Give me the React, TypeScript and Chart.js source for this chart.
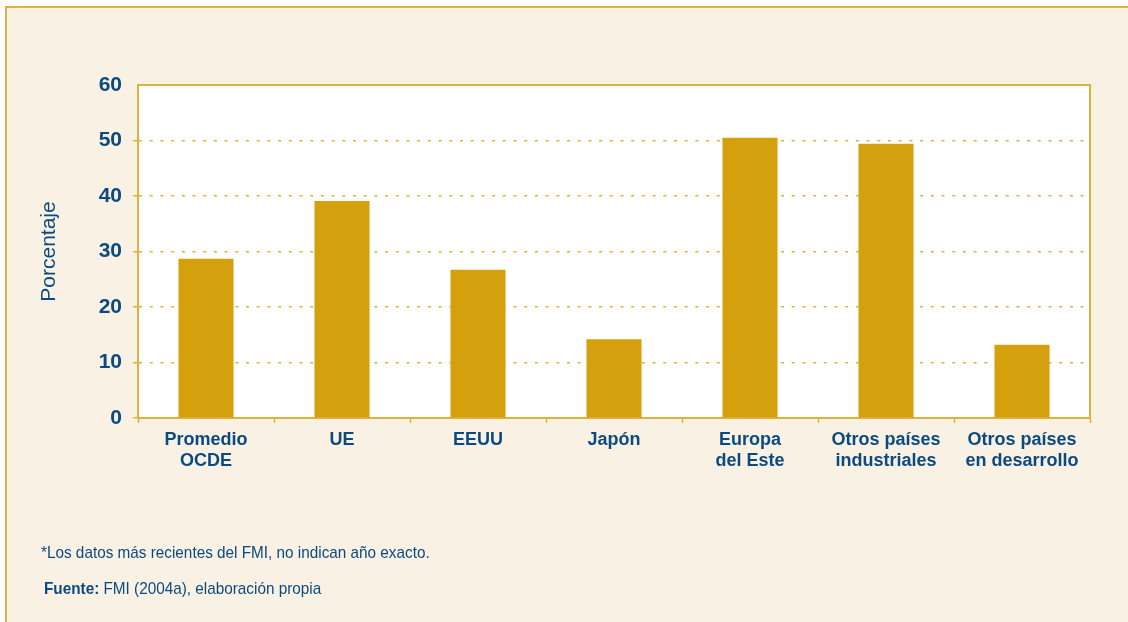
import React, { useEffect, useRef } from "react";
import { Chart, registerables } from "chart.js";

Chart.register(...registerables);

const categories: (string | string[])[] = [
  ["Promedio", "OCDE"],
  "UE",
  "EEUU",
  "Japón",
  ["Europa", "del Este"],
  ["Otros países", "industriales"],
  ["Otros países", "en desarrollo"],
];
const values: number[] = [28.7, 39.1, 26.7, 14.2, 50.5, 49.4, 13.2];
const yTicks: number[] = [0, 10, 20, 30, 40, 50, 60];
const yTitle = "Porcentaje";
const footnote = "*Los datos más recientes del FMI, no indican año exacto.";
const sourceLabel = "Fuente:";
const sourceText = " FMI (2004a), elaboración propia";

const NAVY = "#0B4A80";
const GOLD = "#D4A00E";
const LINE = "#E0B23C";
const CREAM = "#F9F1E3";
const SANS = "'Liberation Sans', Arial, sans-serif";

const plotFrame = {
  id: "plotFrame",
  beforeDraw(chart: any) {
    const { ctx, chartArea: a } = chart;
    ctx.save();
    ctx.fillStyle = "#FFFFFF";
    ctx.fillRect(a.left, a.top, a.right - a.left, a.bottom - a.top);
    ctx.restore();
  },
  afterDraw(chart: any) {
    const { ctx, chartArea: a } = chart;
    ctx.save();
    ctx.strokeStyle = LINE;
    ctx.lineWidth = 2;
    ctx.beginPath();
    ctx.moveTo(a.left, a.top);
    ctx.lineTo(a.right, a.top);
    ctx.lineTo(a.right, a.bottom);
    ctx.stroke();
    ctx.restore();
  },
};

export default function App() {
  const ref = useRef<HTMLCanvasElement | null>(null);

  useEffect(() => {
    if (!ref.current) return;
    const chart = new Chart(ref.current, {
      type: "bar",
      data: {
        labels: categories,
        datasets: [
          {
            data: values,
            backgroundColor: GOLD,
            borderWidth: 0,
            barPercentage: 0.405,
            categoryPercentage: 1,
          },
        ],
      },
      options: {
        responsive: false,
        animation: false,
        events: [],
        layout: { padding: { left: 28, top: 85, right: 38, bottom: 104 } },
        plugins: { legend: { display: false }, tooltip: { enabled: false } },
        scales: {
          x: {
            afterFit: (s: any) => {
              s.height = 100;
            },
            grid: {
              display: true,
              drawOnChartArea: false,
              drawTicks: true,
              tickLength: 5,
              tickColor: LINE,
              tickWidth: 1.5,
              offset: true,
            },
            border: { display: true, color: LINE, width: 2 },
            ticks: {
              color: NAVY,
              font: { family: SANS, size: 18, weight: "bold", lineHeight: 1.2 },
              padding: 6,
              maxRotation: 0,
              autoSkip: false,
            },
          },
          y: {
            min: 0,
            max: 60,
            afterFit: (s: any) => {
              s.width = 110;
            },
            afterBuildTicks: (s: any) => {
              s.ticks = yTicks.map((v) => ({ value: v }));
            },
            grid: {
              color: (c: any) => (c.tick && (c.tick.value === 60 || c.tick.value === 0) ? "rgba(0,0,0,0)" : LINE),
              lineWidth: 1.5,
              drawTicks: true,
              tickLength: 5,
              tickColor: (c: any) => (c.tick && c.tick.value === 60 ? "rgba(0,0,0,0)" : LINE),
              tickWidth: 1.5,
              tickBorderDash: [],
            },
            border: { display: true, color: LINE, width: 2, dash: [3, 7.7] },
            ticks: {
              color: NAVY,
              font: { family: SANS, size: 21, weight: "bold" },
              padding: 11,
            },
            title: {
              display: true,
              text: yTitle,
              color: NAVY,
              font: { family: SANS, size: 21, weight: "normal" },
              padding: { top: 9, bottom: 0 },
            },
          },
        },
      },
      plugins: [plotFrame],
    });
    return () => chart.destroy();
  }, []);

  const noteStyle: React.CSSProperties = {
    position: "absolute",
    fontFamily: SANS,
    fontSize: 17,
    lineHeight: "16px",
    color: NAVY,
    whiteSpace: "nowrap",
    transform: "scaleX(0.9)",
    transformOrigin: "left top",
  };

  return (
    <div style={{ position: "fixed", left: 0, top: 0, width: 1128, height: 622, background: "#FFFFFF", overflow: "hidden" }}>
      <div
        style={{
          position: "absolute",
          left: 5,
          top: 6,
          right: 0,
          bottom: 0,
          background: CREAM,
          borderTop: `2px solid ${LINE}`,
          borderLeft: `2px solid ${LINE}`,
        }}
      />
      <canvas ref={ref} width={1128} height={622} style={{ position: "absolute", left: 0, top: 0, width: 1128, height: 622 }} />
      <div style={{ ...noteStyle, left: 41, top: 545 }}>{footnote}</div>
      <div style={{ ...noteStyle, left: 44, top: 581 }}>
        <b>{sourceLabel}</b>
        {sourceText}
      </div>
    </div>
  );
}
